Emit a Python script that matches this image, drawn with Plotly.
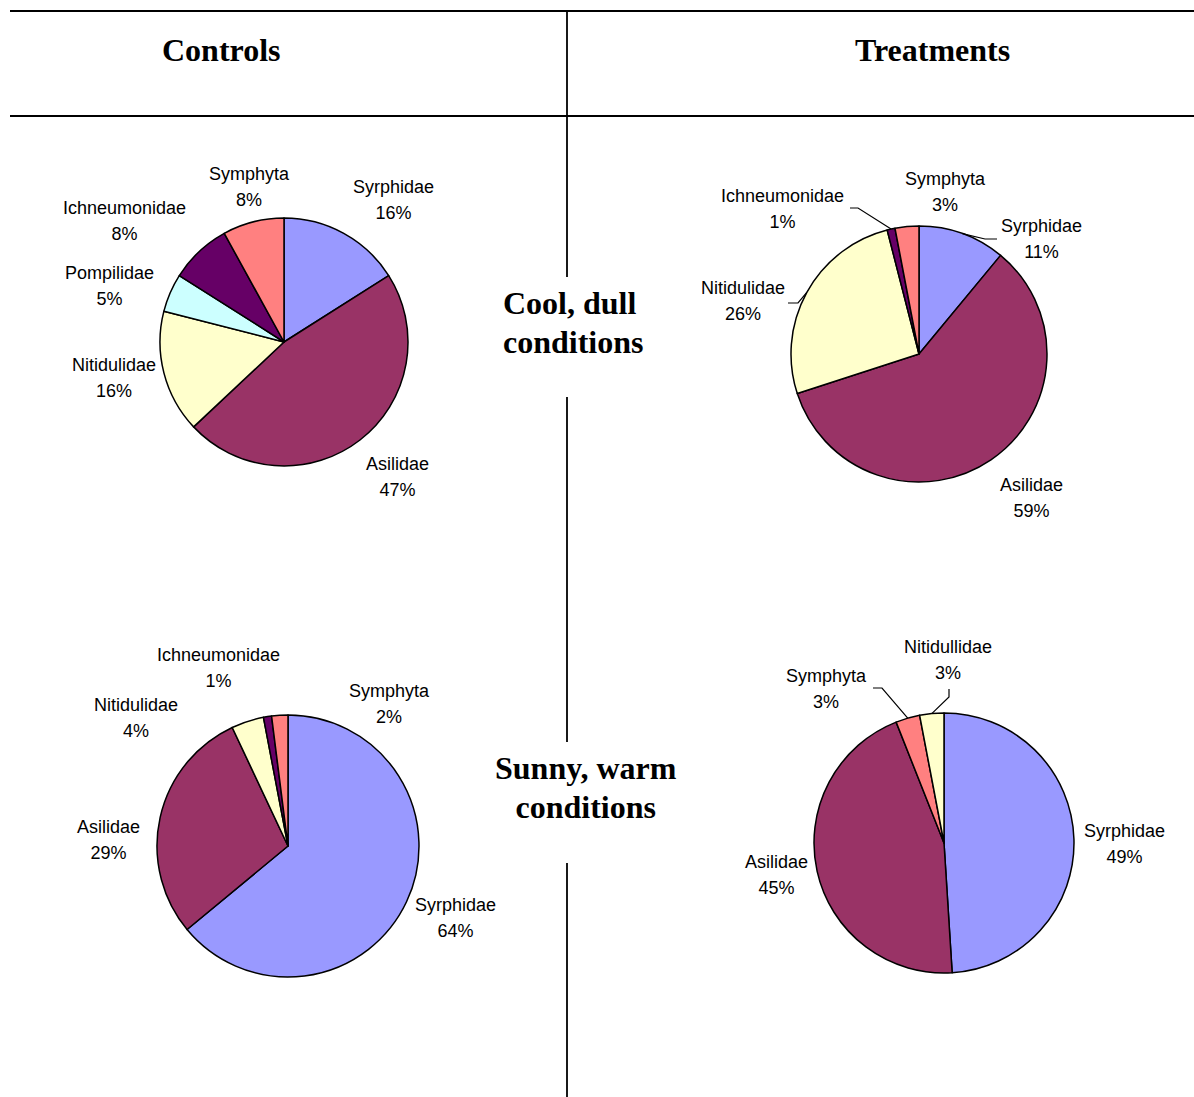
import math
import plotly.graph_objects as go

W, H = 1194, 1097

# ---------------- data ----------------
ctrl_cool_labels = ["Syrphidae", "Asilidae", "Nitidulidae", "Pompilidae", "Ichneumonidae", "Symphyta"]
ctrl_cool_values = [16, 47, 16, 5, 8, 8]

treat_cool_labels = ["Syrphidae", "Asilidae", "Nitidulidae", "Ichneumonidae", "Symphyta"]
treat_cool_values = [11, 59, 26, 1, 3]

ctrl_sunny_labels = ["Syrphidae", "Asilidae", "Nitidulidae", "Ichneumonidae", "Symphyta"]
ctrl_sunny_values = [64, 29, 4, 1, 2]

treat_sunny_labels = ["Syrphidae", "Asilidae", "Symphyta", "Nitidullidae"]
treat_sunny_values = [49, 45, 3, 3]

column_titles = ["Controls", "Treatments"]
row_titles = ["Cool, dull<br>conditions", "Sunny, warm<br>conditions"]

# ---------------- styles ----------------
COLORS = {
    "Syrphidae": "#9999FF",
    "Asilidae": "#993366",
    "Nitidulidae": "#FFFFCC",
    "Nitidullidae": "#FFFFCC",
    "Pompilidae": "#CCFFFF",
    "Ichneumonidae": "#660066",
    "Symphyta": "#FF8080",
}

# pie placement (pixels) and label nudges (pixels, +dy = down)
PIES = [
    dict(labels=ctrl_cool_labels, values=ctrl_cool_values, cx=284, cy=342, r=124,
         nudges={"Nitidulidae": (10, 1), "Asilidae": (-6, -1)}, leaders={}),
    dict(labels=treat_cool_labels, values=treat_cool_values, cx=919, cy=354, r=128,
         nudges={"Syrphidae": (31, 39), "Asilidae": (-2, 0), "Nitidulidae": (-6, 16),
                 "Ichneumonidae": (-105, 15), "Symphyta": (40, 0)},
         leaders={"Syrphidae": [(997, 239), (985, 239)],
                  "Nitidulidae": [(788, 303), (798, 303)],
                  "Ichneumonidae": [(850, 208), (858, 208)]}),
    dict(labels=ctrl_sunny_labels, values=ctrl_sunny_values, cx=288, cy=846, r=131,
         nudges={"Syrphidae": (-8, 9), "Asilidae": (-3, 26), "Nitidulidae": (-63, 31),
                 "Ichneumonidae": (-47, -14), "Symphyta": (111, 24)},
         leaders={}),
    dict(labels=treat_sunny_labels, values=treat_sunny_values, cx=944, cy=843, r=130,
         nudges={"Syrphidae": (-8, 6), "Asilidae": (8, 0), "Symphyta": (-77, 5),
                 "Nitidullidae": (18, -19)},
         leaders={"Symphyta": [(873, 688), (882, 688)],
                  "Nitidullidae": [(949, 689), (949, 697)]}),
]

LABEL_GAP = 16
BASE_SHIFT = {"bottom": 6, "top": 0, "middle": 0}  # px down correction


def px(x):
    return x / W


def py(y):
    return 1 - y / H


fig = go.Figure()
annotations = []
shapes = []

for p in PIES:
    cx, cy, r = p["cx"], p["cy"], p["r"]
    fig.add_trace(go.Pie(
        labels=p["labels"], values=p["values"], sort=False, direction="clockwise",
        rotation=0,
        marker=dict(colors=[COLORS[l] for l in p["labels"]], line=dict(color="black", width=1.5)),
        textinfo="none", hoverinfo="skip", showlegend=False,
        domain=dict(x=[px(cx - r), px(cx + r)], y=[py(cy + r), py(cy - r)]),
    ))
    total = sum(p["values"])
    cum = 0
    for lab, val in zip(p["labels"], p["values"]):
        mid = (cum + val / 2) / total * 2 * math.pi
        cum += val
        s, c = math.sin(mid), math.cos(mid)
        d = r + LABEL_GAP
        ax, ay = cx + d * s, cy - d * c
        xa = "left" if s > 0.3 else ("right" if s < -0.3 else "center")
        ya = "bottom" if c > 0.5 else ("top" if c < -0.5 else "middle")
        ndx, ndy = p["nudges"].get(lab, (0, 0))
        ndy += BASE_SHIFT[ya]
        pct = round(val / total * 100)
        annotations.append(dict(
            x=px(ax + ndx), y=py(ay + ndy), xref="paper", yref="paper",
            xanchor=xa, yanchor=ya, align="center", showarrow=False,
            text=f"<span style='font-size:18px'>{lab}</span><br><span style='font-size:18px'>{pct}%</span>",
            font=dict(family="Liberation Sans, Arial", size=20, color="#000000"),
        ))
        if lab in p["leaders"]:
            ex, ey = cx + r * s, cy - r * c
            pts = p["leaders"][lab] + [(ex, ey)]
            path = "M " + " L ".join(f"{px(x)},{py(y)}" for x, y in pts)
            shapes.append(dict(type="path", path=path, xref="paper", yref="paper",
                               line=dict(color="black", width=1.2)))

# table lines
for yy in (11, 116):
    shapes.append(dict(type="line", xref="paper", yref="paper", x0=px(10), x1=px(1194),
                       y0=py(yy), y1=py(yy), line=dict(color="black", width=2.2)))
for y0, y1 in ((11, 277), (397, 742), (863, 1097)):
    shapes.append(dict(type="line", xref="paper", yref="paper", x0=px(567), x1=px(567),
                       y0=py(y0), y1=py(y1), line=dict(color="black", width=1.8)))

serif = dict(family="Liberation Serif, Times New Roman", size=30, color="black")


def big(t):
    return "<br>".join(f"<span style='font-size:32px'><b>{part}</b></span>" for part in t.split("<br>"))


for t, x in zip(column_titles, (221, 932)):
    annotations.append(dict(x=px(x), y=py(50), xref="paper", yref="paper", xanchor="center",
                            yanchor="middle", showarrow=False, text=big(t), font=serif))
annotations.append(dict(x=px(501), y=py(322), xref="paper", yref="paper", xanchor="left",
                        yanchor="middle", align="left", showarrow=False,
                        text=big(row_titles[0]), font=serif))
annotations.append(dict(x=px(586), y=py(787), xref="paper", yref="paper", xanchor="center",
                        yanchor="middle", align="center", showarrow=False,
                        text=big(row_titles[1]), font=serif))

fig.update_layout(
    width=W, height=H, margin=dict(l=0, r=0, t=0, b=0),
    paper_bgcolor="white", plot_bgcolor="white",
    annotations=annotations, shapes=shapes,
)

fig.write_html("out.html")
